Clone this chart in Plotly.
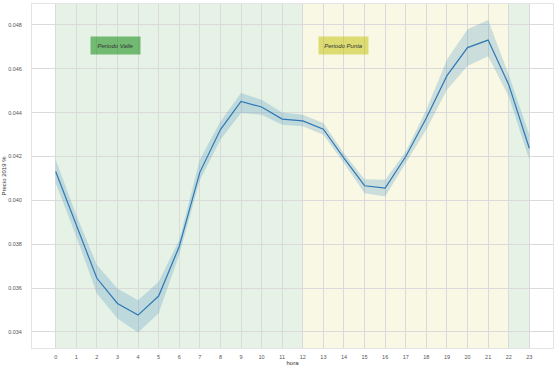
import plotly.graph_objects as go

hours = list(range(24))
precio = [0.04132, 0.03891, 0.03645, 0.03530, 0.03477, 0.03564, 0.03790, 0.04128,
          0.04323, 0.04451, 0.04426, 0.04371, 0.04363, 0.04325, 0.04193, 0.04067,
          0.04056, 0.04200, 0.04376, 0.04569, 0.04697, 0.04731, 0.04528, 0.04238]
ci_upper = [0.04185, 0.03934, 0.03706, 0.03598, 0.03545, 0.03629, 0.03820, 0.04187,
            0.04360, 0.04490, 0.04459, 0.04401, 0.04391, 0.04353, 0.04215, 0.04097,
            0.04094, 0.04223, 0.04414, 0.04643, 0.04780, 0.04823, 0.04573, 0.04299]
ci_lower = [0.04079, 0.03836, 0.03576, 0.03462, 0.03398, 0.03485, 0.03752, 0.04092,
            0.04277, 0.04399, 0.04391, 0.04345, 0.04338, 0.04300, 0.04170, 0.04033,
            0.04018, 0.04170, 0.04323, 0.04505, 0.04613, 0.04658, 0.04474, 0.04185]
y_ticks = [0.034, 0.036, 0.038, 0.040, 0.042, 0.044, 0.046, 0.048]
periods = [("valle", 0, 12), ("punta", 12, 22), ("valle", 22, 23)]
labels = [("Periodo Valle", 2.9, 0.04705, "valle"), ("Periodo Punta", 13.98, 0.04705, "punta")]

span_fill = {"valle": "rgba(0,128,0,0.1)", "punta": "rgba(191,191,0,0.1)"}
box_fill = {"valle": "rgba(0,128,0,0.5)", "punta": "rgba(191,191,0,0.5)"}

fig = go.Figure()
fig.add_trace(go.Scatter(x=hours, y=ci_upper, mode="lines", line=dict(width=0),
                         hoverinfo="skip", showlegend=False))
fig.add_trace(go.Scatter(x=hours, y=ci_lower, mode="lines", line=dict(width=0),
                         fill="tonexty", fillcolor="rgba(31,119,180,0.2)",
                         hoverinfo="skip", showlegend=False))
fig.add_trace(go.Scatter(x=hours, y=precio, mode="lines",
                         line=dict(color="#2f78b4", width=1.2), showlegend=False))

for kind, x0, x1 in periods:
    fig.add_shape(type="rect", xref="x", yref="paper", x0=x0, x1=x1, y0=0, y1=1,
                  fillcolor=span_fill[kind], line=dict(width=0), layer="between")

for text, xv, yv, kind in labels:
    fig.add_annotation(x=xv, y=yv, xref="x", yref="y", text="<i>" + text + "</i>",
                       showarrow=False, bgcolor=box_fill[kind], width=49, height=17,
                       borderpad=0, font=dict(size=6, color="#333333",
                                              family="Liberation Sans, Arial"))

fig.update_layout(
    width=558, height=371,
    margin=dict(l=32, r=5, t=4, b=23),
    plot_bgcolor="white", paper_bgcolor="white",
    font=dict(family="Liberation Sans, Arial", size=5.5, color="#555555"),
    showlegend=False,
)
fig.update_xaxes(range=[-1.15, 24.15], tickmode="array", tickvals=hours,
                 ticktext=[str(h) for h in hours], showgrid=True, gridcolor="#dadada",
                 gridwidth=1, zeroline=False, showline=True, linecolor="#e4e4e4",
                 mirror=True, ticks="", automargin=False, ticklabelstandoff=3,
                 tickfont=dict(size=5.5, color="#555555"),
                 title=dict(text="hora", font=dict(size=6, color="#333333"), standoff=2))
fig.update_yaxes(range=[0.03327, 0.048957], tickmode="array", tickvals=y_ticks,
                 ticktext=["%.3f" % v for v in y_ticks], showgrid=True,
                 gridcolor="#dadada", gridwidth=1, zeroline=False, showline=True,
                 linecolor="#e4e4e4", mirror=True, ticks="", automargin=False,
                 ticklabelstandoff=8,
                 tickfont=dict(size=5.5, color="#555555"),
                 title=dict(text="Precio 2019 %", font=dict(size=6, color="#333333"),
                            standoff=1))

fig.write_html("out.html", config={"displayModeBar": False},
               post_script="document.body.style.margin='0';document.body.style.padding='0';")
